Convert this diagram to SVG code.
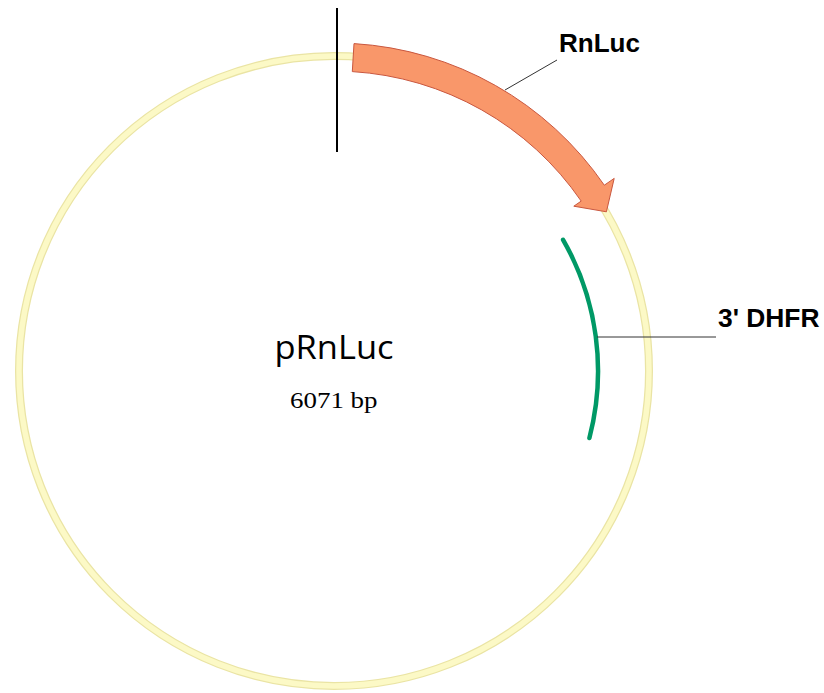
<svg xmlns="http://www.w3.org/2000/svg" width="824" height="693" viewBox="0 0 824 693">
<style>
.lbl{font-family:"Liberation Sans",Arial,sans-serif;font-weight:bold;font-size:26.5px;fill:#000}
.lead{stroke:#333;stroke-width:1;fill:none}
</style>
<rect width="824" height="693" fill="#fff"/>
<g id="backbone">
<circle cx="334" cy="371" r="315" fill="none" stroke="#EAE4A4" stroke-width="8"/>
<circle cx="334" cy="371" r="315" fill="none" stroke="#FCF9C6" stroke-width="5.5"/>
</g>
<g id="origin-mark">
<line x1="337" y1="8" x2="337" y2="152" stroke="#000" stroke-width="2"/>
</g>
<g id="RnLuc">
<path d="M 352.3,71.6 L 354.0,43.6 A 328 328 0 0 1 604.3,185.2 L 614.2,178.4 L 606.4,211.8 L 573.8,206.2 L 581.2,201.1 A 300 300 0 0 0 352.3,71.6 Z" fill="#F9976A" stroke="#C9573F" stroke-width="1"/>
<text class="lbl" x="559" y="51.7" textLength="81" lengthAdjust="spacingAndGlyphs">RnLuc</text>
</g>
<g id="DHFR">
<path d="M 563.1,239.8 A 264 264 0 0 1 589.4,438.0" fill="none" stroke="#009966" stroke-width="4.5" stroke-linecap="round"/>
<text class="lbl" x="718" y="327.3" textLength="101.5" lengthAdjust="spacingAndGlyphs">3' DHFR</text>
</g>
<g id="connectors">
<line class="lead" x1="505" y1="90" x2="557" y2="60"/>
<line class="lead" x1="597" y1="337" x2="716" y2="337"/>
</g>
<g id="title">
<text x="274.5" y="359.3" font-family="'Open Sans','Noto Sans',sans-serif" font-size="32" textLength="119" lengthAdjust="spacingAndGlyphs" fill="#000">pRnLuc</text>
<text x="290" y="407.7" font-family="'Liberation Serif','DejaVu Serif',serif" font-size="23" textLength="87.5" lengthAdjust="spacingAndGlyphs" fill="#000">6071 bp</text>
</g>
</svg>
